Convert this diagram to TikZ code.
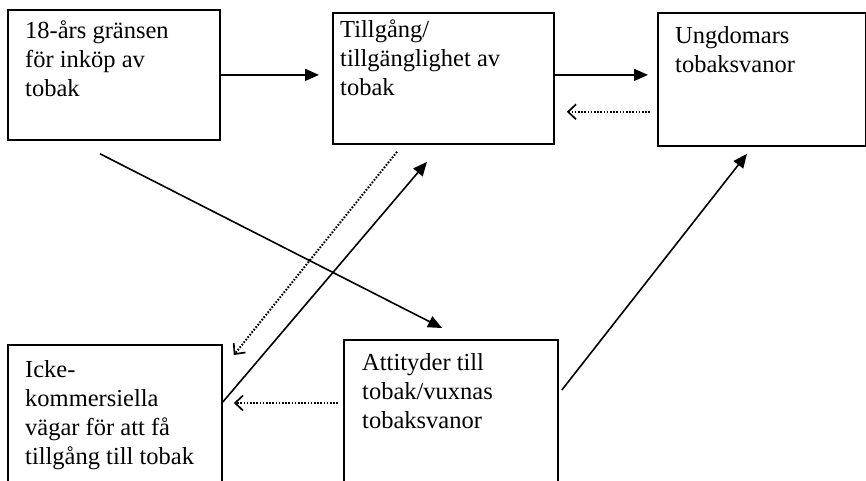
\documentclass[tikz,border=0pt]{standalone}
\usepackage{fontspec}
\setmainfont{Liberation Serif}
\usetikzlibrary{arrows.meta,calc}
\begin{document}
\begin{tikzpicture}[x=1pt,y=-1pt,
  box/.style={draw=black,line width=1.8pt,rectangle,inner sep=0pt,anchor=north west},
  txt/.style={anchor=north west,inner sep=0pt,align=left,font=\fontsize{24.5}{29}\selectfont},
  solidarrow/.style={line width=1.6pt,-{Triangle[length=14pt,width=12pt]}},
  dotarrow/.style={line width=2pt,dash pattern=on 1.6pt off 1.6pt,-{Straight Barb[length=8pt,width=15pt,line width=1.7pt]}}]
\useasboundingbox (0,0) rectangle (866,480);
\fill[white] (0,0) rectangle (866,480);
% boxes
\node[box,minimum width=212pt,minimum height=130pt] (A) at (7,9) {};
\node[box,minimum width=221pt,minimum height=131pt] (B) at (332,12) {};
\node[box,minimum width=208pt,minimum height=133pt] (C) at (657,12) {};
\node[box,minimum width=214pt,minimum height=150pt] (D) at (7,344) {};
\node[box,minimum width=214pt,minimum height=150pt] (E) at (343,339) {};
% texts
\node[txt] (At) at (25,17.7) {\strut 18-års gränsen\\för inköp av\\tobak};
\node[txt] (Bt) at (340,16.7) {\strut Tillgång/\\tillgänglighet av\\tobak};
\node[txt] (Ct) at (675,22.7) {\strut Ungdomars\\tobaksvanor};
\node[txt] (Dt) at (25,356.7) {\strut Icke-\\kommersiella\\vägar för att få\\tillgång till tobak};
\node[txt] (Et) at (362,349.7) {\strut Attityder till\\tobak/vuxnas\\tobaksvanor};
% connectors
\draw[solidarrow,shorten >=13pt] (A.east) -- (B.west |- A.east);
\draw[solidarrow,shorten >=9pt] (B.east |- A.east) -- (C.west |- A.east);
\draw[dotarrow] ($(C.south west)+(-7,-35)$) -- ($(B.south east)+(12,-33)$);
\draw[solidarrow] ($(A.south west)+(93,13)$) -- ($(E.north west)+(99,-11)$);
\draw[dotarrow] ($(B.south west)+(65,7)$) -- ($(D.north east)+(11,11)$);
\draw[solidarrow] ($(D.north east)+(0,58)$) -- ($(B.south west)+(95,17)$);
\draw[solidarrow] ($(E.north east)+(3,51)$) -- ($(C.south west)+(90,7)$);
\draw[dotarrow] ($(E.north west)+(-5,64)$) -- ($(D.north east)+(11,59)$);
\end{tikzpicture}
\end{document}
